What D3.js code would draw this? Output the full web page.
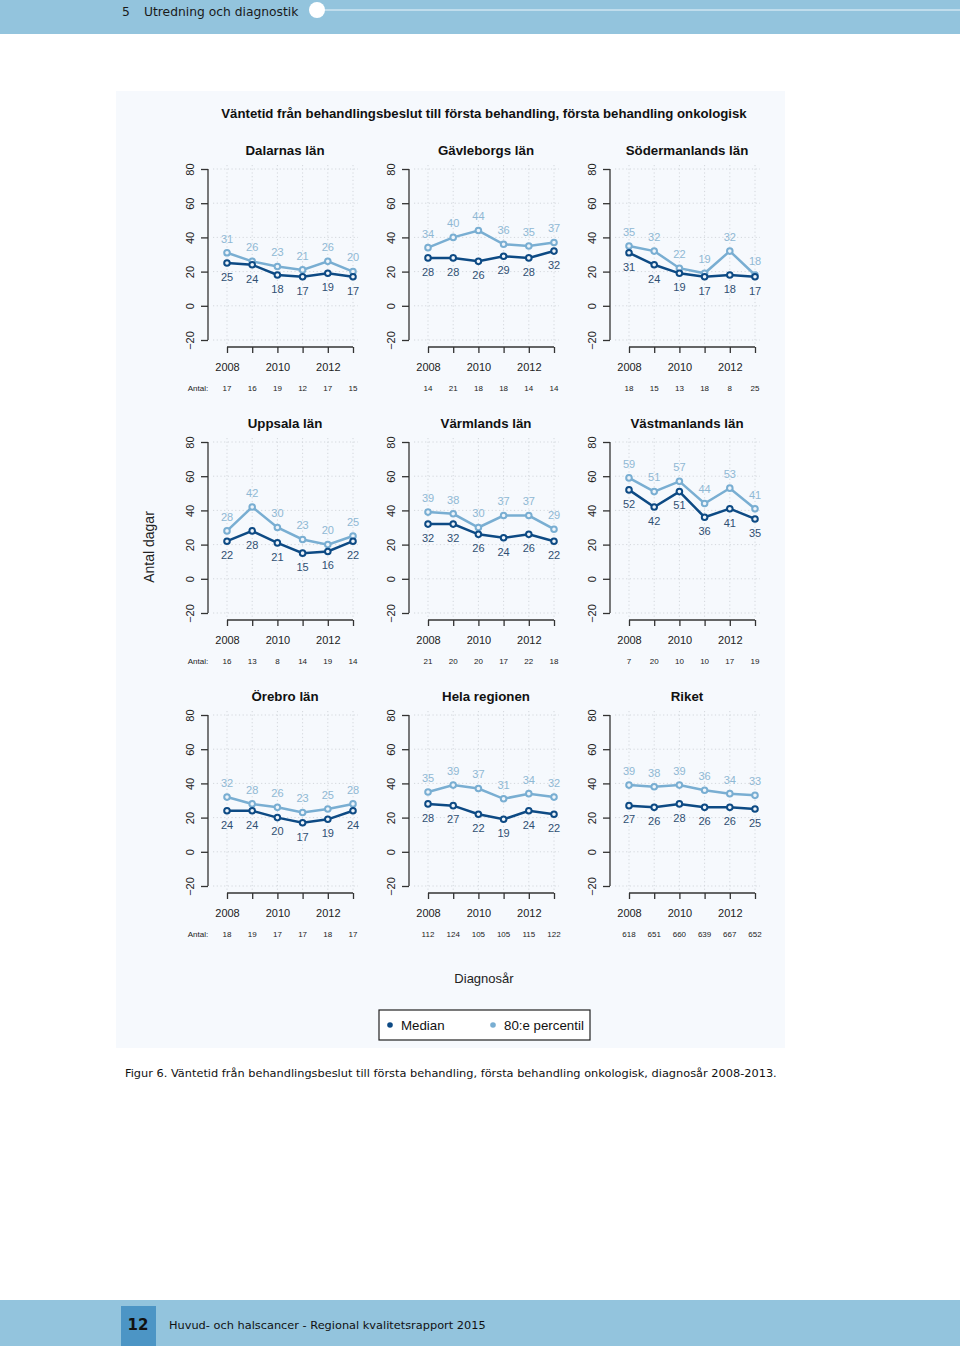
<!DOCTYPE html>
<html><head><meta charset="utf-8">
<script src="https://cdn.jsdelivr.net/npm/d3@7"></script>
<style>
body{margin:0;padding:0;background:#fff;}
svg{display:block;}
</style></head>
<body>
<svg id="chart" width="960" height="1346"></svg>
<script>
const years = [2008, 2009, 2010, 2011, 2012, 2013];
const yearTickLabels = [2008, 2010, 2012];
const yTicks = [-20, 0, 20, 40, 60, 80];
const regions = ["Dalarnas län", "Gävleborgs län", "Södermanlands län", "Uppsala län", "Värmlands län", "Västmanlands län", "Örebro län", "Hela regionen", "Riket"];
const median = [
  [25, 24, 18, 17, 19, 17],
  [28, 28, 26, 29, 28, 32],
  [31, 24, 19, 17, 18, 17],
  [22, 28, 21, 15, 16, 22],
  [32, 32, 26, 24, 26, 22],
  [52, 42, 51, 36, 41, 35],
  [24, 24, 20, 17, 19, 24],
  [28, 27, 22, 19, 24, 22],
  [27, 26, 28, 26, 26, 25]
];
const p80 = [
  [31, 26, 23, 21, 26, 20],
  [34, 40, 44, 36, 35, 37],
  [35, 32, 22, 19, 32, 18],
  [28, 42, 30, 23, 20, 25],
  [39, 38, 30, 37, 37, 29],
  [59, 51, 57, 44, 53, 41],
  [32, 28, 26, 23, 25, 28],
  [35, 39, 37, 31, 34, 32],
  [39, 38, 39, 36, 34, 33]
];
const antal = [
  [17, 16, 19, 12, 17, 15],
  [14, 21, 18, 18, 14, 14],
  [18, 15, 13, 18, 8, 25],
  [16, 13, 8, 14, 19, 14],
  [21, 20, 20, 17, 22, 18],
  [7, 20, 10, 10, 17, 19],
  [18, 19, 17, 17, 18, 17],
  [112, 124, 105, 105, 115, 122],
  [618, 651, 660, 639, 667, 652]
];
const seriesNames = ["Median", "80:e percentil"];

const svg = d3.select("#chart");
const FONT = "'Liberation Sans', Arial, sans-serif";
const DOCFONT = "'DejaVu Sans', sans-serif";
const cMed = "#0d4a84", cP80 = "#79aed2";
const cMedTxt = "#2f4f72", cP80Txt = "#8fb8d4";

// header band
svg.append("rect").attr("x",0).attr("y",0).attr("width",960).attr("height",34).attr("fill","#93c4dd");
svg.append("text").attr("x",122).attr("y",16).attr("font-family",DOCFONT).attr("font-size",12.3).attr("fill","#1a1a1a").text("5");
svg.append("text").attr("x",144).attr("y",16).attr("font-family",DOCFONT).attr("font-size",12.3).attr("fill","#1a1a1a").text("Utredning och diagnostik");
svg.append("line").attr("x1",324).attr("x2",960).attr("y1",10).attr("y2",10).attr("stroke","#eef6fb").attr("stroke-width",1.2);
svg.append("circle").attr("cx",317).attr("cy",10).attr("r",8).attr("fill","#fff");

// chart background
svg.append("rect").attr("x",116).attr("y",91).attr("width",669).attr("height",957).attr("fill","#f6f9fd");

svg.append("text").attr("x",484).attr("y",118).attr("text-anchor","middle").attr("font-family",FONT)
  .attr("font-weight","bold").attr("font-size",13.2).attr("fill","#111")
  .text("Väntetid från behandlingsbeslut till första behandling, första behandling onkologisk");

const colX = [227, 428, 629];
const rowY = [169, 442, 715];

regions.forEach((name, i) => {
  const col = i % 3, row = Math.floor(i / 3);
  const x0 = colX[col], y0 = rowY[row];
  const x = d3.scaleLinear().domain([2008, 2013]).range([x0, x0 + 126]);
  const y = d3.scaleLinear().domain([-20, 80]).range([y0 + 171, y0]);
  const axX = x0 - 19;
  const axY = y0 + 178;
  const g = svg.append("g");

  // grid
  g.selectAll(".hg").data(yTicks).enter().append("line")
    .attr("x1", x0 - 14).attr("x2", x0 + 131)
    .attr("y1", d => y(d)).attr("y2", d => y(d))
    .attr("stroke", "#d3d7dc").attr("stroke-width", 1).attr("stroke-dasharray", "1.2,2.5");
  g.selectAll(".vg").data(years).enter().append("line")
    .attr("x1", d => x(d)).attr("x2", d => x(d))
    .attr("y1", y0 - 4).attr("y2", y0 + 175)
    .attr("stroke", "#d3d7dc").attr("stroke-width", 1).attr("stroke-dasharray", "1.2,2.5");

  // y axis
  const yAxis = d3.axisLeft(y).tickValues(yTicks).tickSize(7).tickFormat(d => d < 0 ? "\u2212" + Math.abs(d) : d);
  const ya = g.append("g").attr("transform", `translate(${axX},0)`).call(yAxis);
  ya.select(".domain").attr("stroke", "#333").attr("stroke-width", 1.3).attr("d", `M0,${y(80)}V${y(-20)}`);
  ya.selectAll(".tick line").attr("stroke", "#333").attr("stroke-width", 1.3);
  ya.selectAll(".tick text").attr("font-family", FONT).attr("font-size", 11).attr("fill", "#222")
    .attr("text-anchor", "middle")
    .attr("transform", "translate(-18,0) rotate(-90)").attr("x", 0).attr("y", 0).attr("dy", "0.35em");

  // x axis
  const xAxis = d3.axisBottom(x).tickValues(years).tickSize(6).tickFormat(d => yearTickLabels.includes(d) ? d : "");
  const xa = g.append("g").attr("transform", `translate(0,${axY})`).call(xAxis);
  xa.select(".domain").attr("stroke", "#333").attr("stroke-width", 1.3).attr("d", `M${x(2008)},0H${x(2013)}`);
  xa.selectAll(".tick line").attr("stroke", "#333").attr("stroke-width", 1.3);
  xa.selectAll(".tick text").attr("font-family", FONT).attr("font-size", 11).attr("fill", "#222").attr("y", 16);

  // antal
  g.selectAll(".antal").data(antal[i]).enter().append("text")
    .attr("x", (d, k) => x(years[k])).attr("y", axY + 44)
    .attr("text-anchor", "middle").attr("font-family", FONT).attr("font-size", 8).attr("fill", "#222")
    .text(d => d);
  if (col === 0) {
    g.append("text").attr("x", 198).attr("y", axY + 44).attr("text-anchor", "middle")
      .attr("font-family", FONT).attr("font-size", 8).attr("fill", "#222").text("Antal:");
  }

  // title
  g.append("text").attr("x", x0 + 58).attr("y", y0 - 14).attr("text-anchor", "middle")
    .attr("font-family", FONT).attr("font-weight", "bold").attr("font-size", 13.3).attr("fill", "#111").text(name);

  const line = d3.line().x((d, k) => x(years[k])).y(d => y(d));
  [[p80[i], cP80, cP80Txt, -1], [median[i], cMed, cMedTxt, 1]].forEach(([vals, c, tc, dir]) => {
    g.append("path").attr("d", line(vals)).attr("fill", "none").attr("stroke", c).attr("stroke-width", 2.5);
    g.selectAll(null).data(vals).enter().append("circle")
      .attr("cx", (d, k) => x(years[k])).attr("cy", d => y(d)).attr("r", 2.8)
      .attr("fill", "#eef4fa").attr("stroke", c).attr("stroke-width", 2);
    g.selectAll(null).data(vals).enter().append("text")
      .attr("x", (d, k) => x(years[k])).attr("y", d => y(d) + dir * 14)
      .attr("dy", "0.35em").attr("text-anchor", "middle")
      .attr("font-family", FONT).attr("font-size", 11).attr("fill", tc).text(d => d);
  });
});

// y label
svg.append("text").attr("transform", "translate(154,547) rotate(-90)").attr("text-anchor", "middle")
  .attr("font-family", FONT).attr("font-size", 14).attr("fill", "#222").text("Antal dagar");

// x label
svg.append("text").attr("x", 484).attr("y", 983).attr("text-anchor", "middle")
  .attr("font-family", FONT).attr("font-size", 13).attr("fill", "#222").text("Diagnosår");

// legend
const lg = svg.append("g");
lg.append("rect").attr("x", 379).attr("y", 1010).attr("width", 211).attr("height", 30)
  .attr("fill", "#fff").attr("stroke", "#222").attr("stroke-width", 1.2);
const legItems = lg.selectAll(".li").data(seriesNames).enter().append("g")
  .attr("transform", (d, k) => `translate(${k === 0 ? 390 : 493},1025)`);
legItems.append("circle").attr("r", 2.8).attr("fill", (d, k) => k === 0 ? cMed : cP80);
legItems.append("text").attr("x", 11).attr("dy", "0.35em").attr("font-family", FONT).attr("font-size", 13.3)
  .attr("fill", "#111").text(d => d);

// caption
svg.append("text").attr("x", 125).attr("y", 1077).attr("font-family", DOCFONT).attr("font-size", 11.35)
  .attr("fill", "#111").text("Figur 6. Väntetid från behandlingsbeslut till första behandling, första behandling onkologisk, diagnosår 2008-2013.");

// footer
svg.append("rect").attr("x", 0).attr("y", 1300).attr("width", 960).attr("height", 46).attr("fill", "#93c4dd");
svg.append("rect").attr("x", 121).attr("y", 1306).attr("width", 35).attr("height", 40).attr("fill", "#4c95c5");
svg.append("text").attr("x", 138).attr("y", 1330).attr("text-anchor", "middle").attr("font-family", DOCFONT)
  .attr("font-weight", "bold").attr("font-size", 15).attr("fill", "#111").text("12");
svg.append("text").attr("x", 169).attr("y", 1329).attr("font-family", DOCFONT).attr("font-size", 11.35)
  .attr("fill", "#111").text("Huvud- och halscancer - Regional kvalitetsrapport 2015");
</script>
</body></html>
